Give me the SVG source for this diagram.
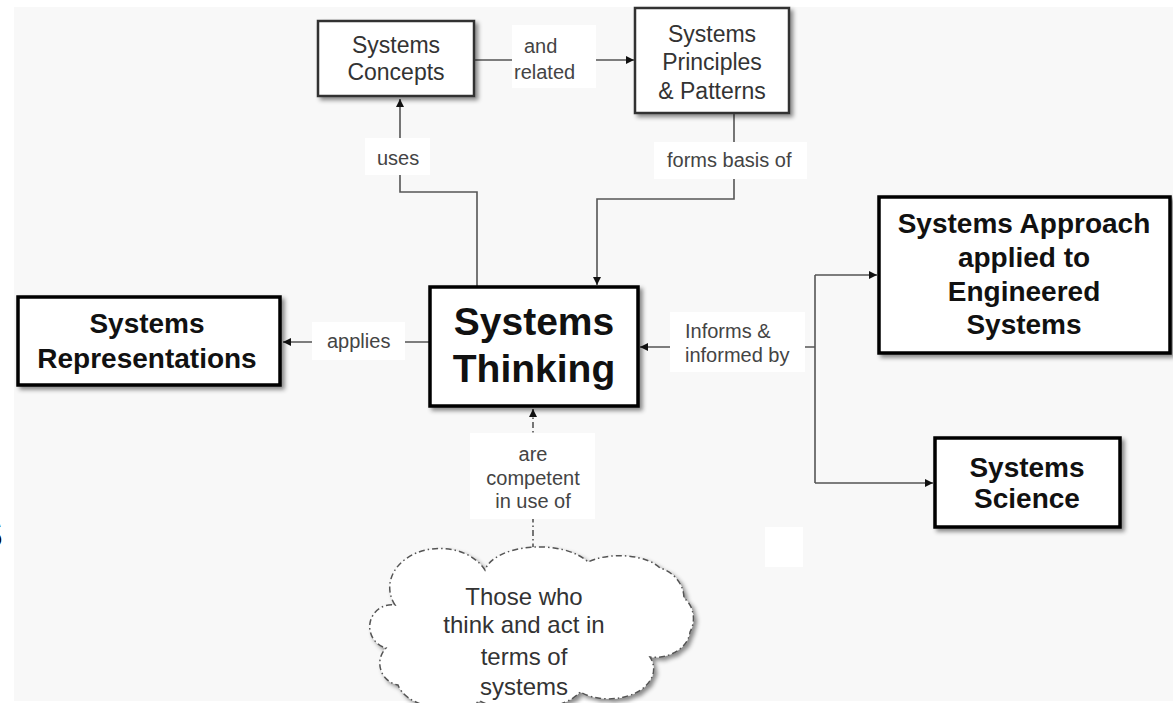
<svg xmlns="http://www.w3.org/2000/svg" width="1173" height="703" viewBox="0 0 1173 703">
<defs>
<style>
.bg{fill:#f8f8f8}
.small{fill:#fff;stroke:#333;stroke-width:2.5}
.big{fill:#fff;stroke:#000;stroke-width:3.5}
.lbl{fill:#fff}
.t1{font-family:"Liberation Sans",Arial,sans-serif;font-size:23px;fill:#333;text-anchor:middle}
.tb{font-family:"Liberation Sans",Arial,sans-serif;font-size:28px;font-weight:bold;fill:#111;text-anchor:middle}
.tl{font-family:"Liberation Sans",Arial,sans-serif;font-size:20px;fill:#444}
.c{fill:none;stroke:#555;stroke-width:1.6}
.dash{stroke-dasharray:6 3 1.5 3}
</style>
<filter id="sh" x="-10%" y="-10%" width="130%" height="130%">
<feDropShadow dx="3" dy="3" stdDeviation="2" flood-color="#000" flood-opacity="0.45"/>
</filter>
<marker id="ar" viewBox="0 0 10 10" refX="10" refY="5" markerWidth="9" markerHeight="8" markerUnits="userSpaceOnUse" orient="auto">
<path d="M0,0 L10,5 L0,10 z" fill="#111"/>
</marker>
</defs>
<rect x="0" y="0" width="1173" height="703" fill="#fff"/>
<rect class="bg" x="14" y="7" width="1159" height="694"/>
<text x="-24" y="548" font-family="Liberation Sans,Arial,sans-serif" font-size="40" font-weight="bold" fill="#000">S</text>

<g id="connectors">
<path class="c" d="M477 287 V192 H400 V99" marker-end="url(#ar)"/>
<path class="c" d="M474 60 H634" marker-end="url(#ar)"/>
<path class="c" d="M734 113 V199 H597 V285" marker-end="url(#ar)"/>
<path class="c" d="M430 342 H283" marker-end="url(#ar)"/>
<path class="c" d="M815 347 H640" marker-end="url(#ar)"/>
<path class="c" d="M815 275 V483"/>
<path class="c" d="M815 275 H877" marker-end="url(#ar)"/>
<path class="c" d="M815 483 H933" marker-end="url(#ar)"/>
<path class="c dash" d="M533 563 V409" marker-end="url(#ar)"/>
<g id="lbl-uses"><rect class="lbl" x="365" y="138" width="65" height="37"/><text class="tl" x="377" y="165">uses</text></g>
<g id="lbl-related"><rect class="lbl" x="512" y="25" width="84" height="63"/><text class="tl" x="524" y="53">and</text><text class="tl" x="514" y="79">related</text></g>
<g id="lbl-forms"><rect class="lbl" x="654" y="142" width="153" height="37"/><text class="tl" x="667" y="167">forms basis of</text></g>
<g id="lbl-applies"><rect class="lbl" x="312" y="322" width="93" height="38"/><text class="tl" x="327" y="348">applies</text></g>
<g id="lbl-informs"><rect class="lbl" x="670" y="312" width="135" height="60"/><text class="tl" x="685" y="338">Informs &amp;</text><text class="tl" x="685" y="362">informed by</text></g>
<g id="lbl-competent"><rect class="lbl" x="470" y="433" width="125" height="86"/><text class="tl" x="533" y="461" text-anchor="middle">are</text><text class="tl" x="533" y="485" text-anchor="middle">competent</text><text class="tl" x="533" y="508" text-anchor="middle">in use of</text></g>
<g id="lbl-empty"><rect class="lbl" x="765" y="527" width="38" height="40"/></g>
</g>

<g id="systems-concepts">
<rect class="small" x="318" y="21" width="156" height="75" filter="url(#sh)"/>
<text class="t1" x="396" y="53">Systems</text>
<text class="t1" x="396" y="80">Concepts</text>
</g>
<g id="systems-principles">
<rect class="small" x="635" y="8" width="154" height="105" filter="url(#sh)"/>
<text class="t1" x="712" y="42">Systems</text>
<text class="t1" x="712" y="70">Principles</text>
<text class="t1" x="712" y="99">&amp; Patterns</text>
</g>
<g id="systems-representations">
<rect class="big" x="18" y="297" width="262" height="88" filter="url(#sh)"/>
<text class="tb" x="147" y="333">Systems</text>
<text class="tb" x="147" y="368">Representations</text>
</g>
<g id="systems-thinking">
<rect class="big" x="430" y="287" width="208" height="119" filter="url(#sh)"/>
<text class="tb" x="534" y="335" style="font-size:39px">Systems</text>
<text class="tb" x="534" y="382" style="font-size:39px">Thinking</text>
</g>
<g id="systems-approach">
<rect class="big" x="879" y="197" width="291" height="156" filter="url(#sh)"/>
<text class="tb" x="1024" y="233">Systems Approach</text>
<text class="tb" x="1024" y="267">applied to</text>
<text class="tb" x="1024" y="301">Engineered</text>
<text class="tb" x="1024" y="334">Systems</text>
</g>
<g id="systems-science">
<rect class="big" x="935" y="438" width="185" height="89" filter="url(#sh)"/>
<text class="tb" x="1027" y="477">Systems</text>
<text class="tb" x="1027" y="508">Science</text>
</g>
<g id="those-who">
<path d="M395 605 A45 35 0 0 1 485 570 A55 28 0 0 1 588 562 A45 22 0 0 1 660 568 A35 32 0 0 1 684 598 A22 25 0 0 1 690 632 A35 28 0 0 1 650 657 A45 30 0 0 1 580 692 A60 28 0 0 1 480 701 A50 30 0 0 1 398 685 A22 22 0 0 1 386 648 A22 22 0 0 1 395 605 Z" fill="#fff" stroke="#555" stroke-width="1.5" stroke-dasharray="6 3 1.5 3" filter="url(#sh)"/>
<text class="t1" style="font-size:24px" x="524" y="605">Those who</text>
<text class="t1" style="font-size:24px" x="524" y="633">think and act in</text>
<text class="t1" style="font-size:24px" x="524" y="665">terms of</text>
<text class="t1" style="font-size:24px" x="524" y="695">systems</text>
</g>
</svg>
